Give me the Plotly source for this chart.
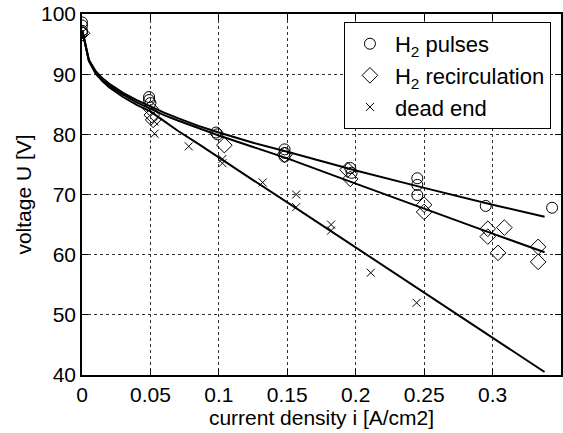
import plotly.graph_objects as go

# measured points
pulses_i = [0.0, 0.0, 0.0, 0.0, 0.049, 0.049, 0.05, 0.098, 0.099, 0.148, 0.148, 0.148,
            0.196, 0.197, 0.245, 0.245, 0.245, 0.295, 0.3435]
pulses_U = [98.6, 98.1, 97.2, 96.9, 86.2, 85.7, 85.2, 80.3, 80.0, 77.5, 76.9, 76.3,
            74.4, 73.6, 72.7, 71.6, 69.9, 68.1, 67.8]

recirc_i = [0.0, 0.05, 0.051, 0.052, 0.104, 0.148, 0.194, 0.196, 0.25, 0.25,
            0.2965, 0.2965, 0.304, 0.3086, 0.3333, 0.3333]
recirc_U = [96.8, 84.3, 83.2, 82.4, 78.2, 76.6, 74.1, 72.6, 68.3, 67.1,
            64.3, 63.0, 60.3, 64.5, 61.3, 58.8]

dead_i = [0.0, 0.053, 0.053, 0.078, 0.1026, 0.1026, 0.132, 0.1565, 0.1565, 0.182, 0.182, 0.211, 0.2445]
dead_U = [96.0, 82.1, 80.1, 78.0, 75.9, 75.2, 72.0, 70.0, 67.9, 65.0, 64.0, 57.0, 52.0]

# fitted curves
fit_i = [0.0003, 0.005, 0.01, 0.015, 0.02, 0.03, 0.04, 0.05, 0.06, 0.07, 0.085, 0.1, 0.125,
         0.15, 0.2, 0.25, 0.3, 0.338]
pulses_fit = [97.2, 92.4, 90.5, 89.3, 88.4, 86.9, 85.7, 84.6, 83.6, 82.7, 81.4, 80.3, 78.6,
              77.1, 74.0, 71.1, 68.3, 66.3]
recirc_fit = [97.2, 92.3, 90.3, 89.0, 88.1, 86.6, 85.3, 84.2, 83.2, 82.3, 81.0, 79.8, 77.9,
              76.0, 71.8, 67.6, 63.5, 60.4]
dead_fit = [97.2, 92.2, 90.1, 88.8, 87.8, 86.2, 84.9, 83.8, 82.2, 80.6, 78.4, 76.1, 72.4,
            68.7, 61.2, 53.7, 46.2, 40.5]

x_ticks = [0, 0.05, 0.1, 0.15, 0.2, 0.25, 0.3]
x_labels = ["0", "0.05", "0.1", "0.15", "0.2", "0.25", "0.3"]
y_ticks = [40, 50, 60, 70, 80, 90, 100]

FONT = "Liberation Sans, Arial, Helvetica, sans-serif"

fig = go.Figure()
for fy in [pulses_fit, recirc_fit, dead_fit]:
    fig.add_trace(go.Scatter(x=fit_i, y=fy, mode="lines", showlegend=False,
                             line=dict(color="black", width=2),
                             hoverinfo="skip"))

fig.add_trace(go.Scatter(x=pulses_i, y=pulses_U, mode="markers", name="H<sub>2</sub> pulses",
                         marker=dict(symbol="circle-open", size=11, color="black", line=dict(width=1))))
fig.add_trace(go.Scatter(x=recirc_i, y=recirc_U, mode="markers", name="H<sub>2</sub> recirculation",
                         marker=dict(symbol="diamond-open", size=12, color="black", line=dict(width=1))))
fig.add_trace(go.Scatter(x=dead_i, y=dead_U, mode="markers", name="dead end",
                         marker=dict(symbol="x-thin-open", size=8, color="black", line=dict(width=1))))

axis_common = dict(showline=True, linecolor="black", linewidth=1.5, mirror="allticks",
                   ticks="inside", ticklen=6, tickcolor="black", tickwidth=1,
                   showgrid=True, gridcolor="#333333", griddash="dot", gridwidth=1,
                   zeroline=False, tickfont=dict(size=21, color="black", family=FONT),
                   title_font=dict(size=21, color="black", family=FONT))

fig.update_xaxes(range=[0, 0.35], tickvals=x_ticks, ticktext=x_labels,
                 title_text="current density i [A/cm2]", title_standoff=4, **axis_common)
fig.update_yaxes(range=[40, 100], tickvals=y_ticks,
                 title_text="voltage U [V]", title_standoff=4, **axis_common)

fig.update_layout(width=563, height=433, margin=dict(l=82, r=0, t=14, b=58),
                  plot_bgcolor="white", paper_bgcolor="white",
                  font=dict(family=FONT, color="black"),
                  legend=dict(x=0.979, y=0.978, xanchor="right", yanchor="top",
                              bgcolor="white", bordercolor="black", borderwidth=1,
                              font=dict(size=22, family=FONT, color="black"),
                              tracegroupgap=0, itemsizing="trace", itemwidth=40))

fig.write_html("out.html")
